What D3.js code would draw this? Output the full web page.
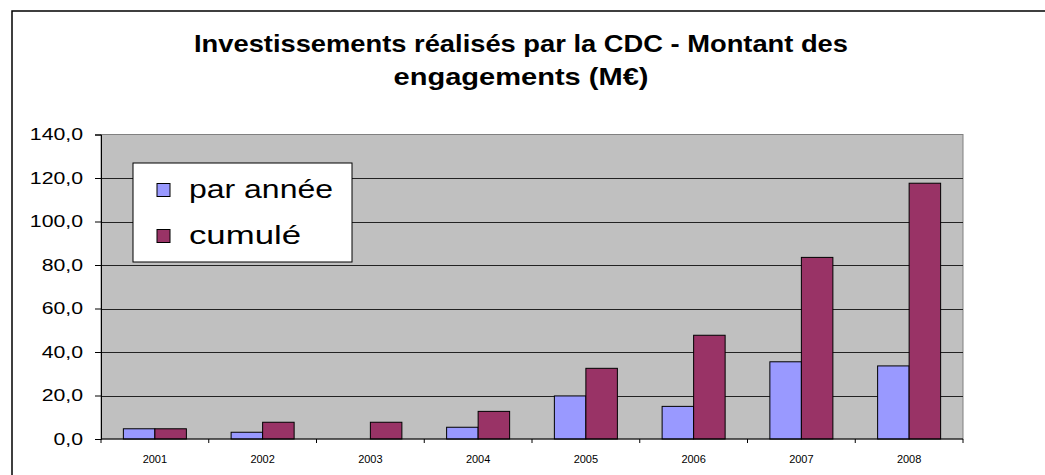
<!DOCTYPE html>
<html lang="fr">
  <head>
    <meta charset="utf-8">
    <title>Investissements CDC</title>
    <script src="https://d3js.org/d3.v7.js"></script>
    <style>
      html, body { margin: 0; padding: 0; background: white; overflow: hidden; }
      svg { display: block; }
      text { font-family: "Liberation Sans", Arial, sans-serif; }
    </style>
  </head>
  <body>
    <script>
      // data
      const years = ["2001", "2002", "2003", "2004", "2005", "2006", "2007", "2008"];
      const parAnnee = [4.7, 3.1, 0, 5.4, 19.8, 15.0, 35.5, 33.6];
      const cumule = [4.7, 7.7, 7.7, 12.7, 32.5, 47.7, 83.5, 117.6];
      const seriesNames = ["par année", "cumulé"];
      const seriesColors = ["#9999FF", "#993366"];
      const yTicks = [0, 20, 40, 60, 80, 100, 120, 140];
      const titleLines = ["Investissements réalisés par la CDC - Montant des", "engagements (M€)"];

      const w = 1045;
      const h = 475;
      const plot = {left: 101, right: 963, top: 134.5, bottom: 439};

      const svg = d3.select("body")
                    .append("svg")
                    .attr("width", w)
                    .attr("height", h);

      svg.append("rect")
         .attr("width", w)
         .attr("height", h)
         .attr("fill", "white");

      // outer chart frame (runs off the right and bottom edges)
      svg.append("path")
         .attr("d", `M12,${h + 5} L12,11 L${w + 5},11`)
         .attr("fill", "none")
         .attr("stroke", "black")
         .attr("stroke-width", 1.5);

      // title
      svg.append("g")
         .selectAll("text")
         .data(titleLines)
         .enter().append("text")
         .attr("x", 521)
         .attr("y", (d, i) => 52 + i * 33)
         .attr("text-anchor", "middle")
         .attr("font-size", 24)
         .attr("font-weight", "bold")
         .attr("textLength", (d, i) => i === 0 ? 654 : 255)
         .attr("lengthAdjust", "spacingAndGlyphs")
         .text(d => d);

      const x0 = d3.scaleBand()
                   .domain(years)
                   .range([plot.left, plot.right])
                   .paddingInner(0)
                   .paddingOuter(0);

      const x1 = d3.scaleBand()
                   .domain(seriesNames)
                   .range([0, x0.bandwidth()])
                   .paddingInner(0)
                   .paddingOuter(0.71);

      const y = d3.scaleLinear()
                  .domain([0, 140])
                  .range([plot.bottom, plot.top]);

      // plot background
      svg.append("rect")
         .attr("x", plot.left)
         .attr("y", plot.top)
         .attr("width", plot.right - plot.left)
         .attr("height", plot.bottom - plot.top)
         .attr("fill", "#C0C0C0")
         .attr("stroke", "#808080")
         .attr("stroke-width", 1);

      // gridlines
      svg.append("g")
         .selectAll("line")
         .data(yTicks.filter(t => t > 0 && t < 140))
         .enter().append("line")
         .attr("x1", plot.left)
         .attr("x2", plot.right)
         .attr("y1", d => Math.round(y(d)) + 0.5)
         .attr("y2", d => Math.round(y(d)) + 0.5)
         .attr("stroke", "#222")
         .attr("stroke-width", 1);

      // bars
      const rows = years.map((yr, i) => ({year: yr, values: [parAnnee[i], cumule[i]]}));

      svg.append("g")
         .selectAll("g")
         .data(rows)
         .enter().append("g")
         .attr("transform", d => `translate(${x0(d.year)},0)`)
         .selectAll("rect")
         .data(d => d.values.map((v, j) => ({name: seriesNames[j], value: v, color: seriesColors[j]})))
         .enter().append("rect")
         .filter(d => d.value > 0)
         .attr("x", d => x1(d.name))
         .attr("y", d => y(d.value))
         .attr("width", x1.bandwidth())
         .attr("height", d => plot.bottom - y(d.value))
         .attr("fill", d => d.color)
         .attr("stroke", "black")
         .attr("stroke-width", 1);

      // y axis
      const yAxis = d3.axisLeft(y)
                      .tickValues(yTicks)
                      .tickSize(6)
                      .tickPadding(12)
                      .tickFormat(d => d3.format(".1f")(d).replace(".", ","));

      const yG = svg.append("g")
                    .attr("transform", `translate(${plot.left},0)`)
                    .call(yAxis);
      yG.select(".domain").attr("stroke", "black");
      yG.selectAll(".tick line").attr("stroke", "black");
      yG.selectAll(".tick text")
        .attr("font-size", 17)
        .attr("font-family", "'Liberation Sans', Arial, sans-serif")
        .attr("fill", "black")
        .each(function() {
          const len = this.getComputedTextLength();
          d3.select(this).attr("textLength", len * 1.25).attr("lengthAdjust", "spacingAndGlyphs");
        });

      // x axis: ticks on category boundaries, labels centered
      const xG = svg.append("g")
                    .attr("transform", `translate(0,${plot.bottom})`);
      xG.append("line")
        .attr("x1", plot.left)
        .attr("x2", plot.right)
        .attr("stroke", "black");
      xG.selectAll(".xtick")
        .data(years.concat(["end"]))
        .enter().append("line")
        .attr("class", "xtick")
        .attr("x1", d => d === "end" ? plot.right : x0(d))
        .attr("x2", d => d === "end" ? plot.right : x0(d))
        .attr("y1", 0)
        .attr("y2", 4)
        .attr("stroke", "black");
      xG.selectAll(".xlabel")
        .data(years)
        .enter().append("text")
        .attr("class", "xlabel")
        .attr("x", d => x0(d) + x0.bandwidth() / 2)
        .attr("y", 24)
        .attr("text-anchor", "middle")
        .attr("font-size", 11)
        .text(d => d);

      // legend
      const legend = svg.append("g");
      legend.append("rect")
            .attr("x", 133)
            .attr("y", 163)
            .attr("width", 219)
            .attr("height", 99)
            .attr("fill", "white")
            .attr("stroke", "black")
            .attr("stroke-width", 1);

      const items = legend.selectAll(".item")
                          .data(seriesNames)
                          .enter().append("g")
                          .attr("class", "item")
                          .attr("transform", (d, i) => `translate(157,${183.5 + i * 46})`);
      items.append("rect")
           .attr("width", 13)
           .attr("height", 13)
           .attr("fill", (d, i) => seriesColors[i])
           .attr("stroke", "black")
           .attr("stroke-width", 1);
      items.append("text")
           .attr("x", 32)
           .attr("y", 14)
           .attr("font-size", 26)
           .attr("textLength", (d, i) => i === 0 ? 144 : 112)
           .attr("lengthAdjust", "spacingAndGlyphs")
           .text(d => d);
    </script>
  </body>
</html>
